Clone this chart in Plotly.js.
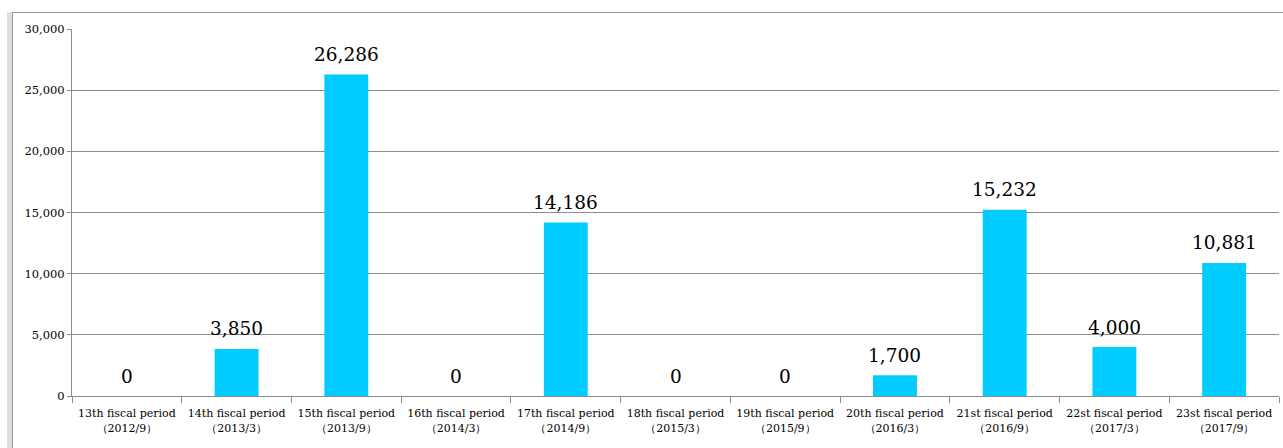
<!DOCTYPE html>
<html>
<head>
<meta charset="utf-8">
<script src="https://cdn.plot.ly/plotly-3.0.1.min.js"></script>
<style>
  html, body { margin: 0; padding: 0; background: #fff; }
  #wrap { position: relative; width: 1283px; height: 448px; overflow: hidden; }
  #chart { position: absolute; left: 0; top: 0; width: 1283px; height: 448px; }
  #strip { position: absolute; left: 7px; top: 12px; width: 5px; height: 436px; background: #dedede; pointer-events: none; }
  #frame { position: absolute; left: 12px; top: 12px; width: 1275px; height: 440px; border-left: 1px solid #9a9a9a; border-top: 1px solid #9a9a9a; pointer-events: none; }
</style>
</head>
<body>
<div id="wrap">
  <div id="chart"></div>
  <div id="strip"></div>
  <div id="frame"></div>
</div>
<script>
const periods = ["13th fiscal period", "14th fiscal period", "15th fiscal period", "16th fiscal period",
  "17th fiscal period", "18th fiscal period", "19th fiscal period", "20th fiscal period",
  "21st fiscal period", "22st fiscal period", "23st fiscal period"];
const dates = ["2012/9", "2013/3", "2013/9", "2014/3", "2014/9", "2015/3", "2015/9",
  "2016/3", "2016/9", "2017/3", "2017/9"];
const values = [0, 3850, 26286, 0, 14186, 0, 0, 1700, 15232, 4000, 10881];

const categories = periods.map((p, i) => p + "<br>（" + dates[i] + "）");
const serif = "DejaVu Serif, serif";

const trace = {
  type: "bar",
  x: categories,
  y: values,
  marker: { color: "#00CCFF" },
  hoverinfo: "skip"
};

const annotations = categories.map((c, i) => ({
  x: c,
  y: values[i],
  xref: "x",
  yref: "y",
  text: values[i].toLocaleString("en-US"),
  showarrow: false,
  yanchor: "middle",
  yshift: 20,
  font: { family: serif, size: 18.5, color: "#000" }
}));

const layout = {
  width: 1283,
  height: 448,
  margin: { l: 72, r: 4, t: 29, b: 52, pad: 0 },
  paper_bgcolor: "rgba(0,0,0,0)",
  plot_bgcolor: "#fff",
  bargap: 0.6,
  showlegend: false,
  font: { family: serif, size: 11, color: "#000" },
  xaxis: {
    type: "category",
    showline: true,
    linecolor: "#8c8c8c",
    linewidth: 1,
    ticks: "outside",
    tickson: "boundaries",
    ticklen: 6,
    tickcolor: "#8c8c8c",
    showgrid: false,
    tickangle: 0,
    ticklabelstandoff: 7,
    tickfont: { family: serif, size: 11, color: "#000" },
    automargin: false
  },
  yaxis: {
    range: [0, 30000],
    dtick: 5000,
    tickformat: ",",
    showline: true,
    linecolor: "#8c8c8c",
    linewidth: 1,
    ticks: "outside",
    ticklen: 4,
    tickcolor: "#8c8c8c",
    showgrid: true,
    gridcolor: "#8c8c8c",
    gridwidth: 1,
    zeroline: true,
    zerolinecolor: "#8c8c8c",
    zerolinewidth: 1,
    tickfont: { family: serif, size: 11.5, color: "#000" },
    automargin: false
  },
  annotations: annotations
};

Plotly.newPlot("chart", [trace], layout, { displayModeBar: false, staticPlot: true });
</script>
</body>
</html>
